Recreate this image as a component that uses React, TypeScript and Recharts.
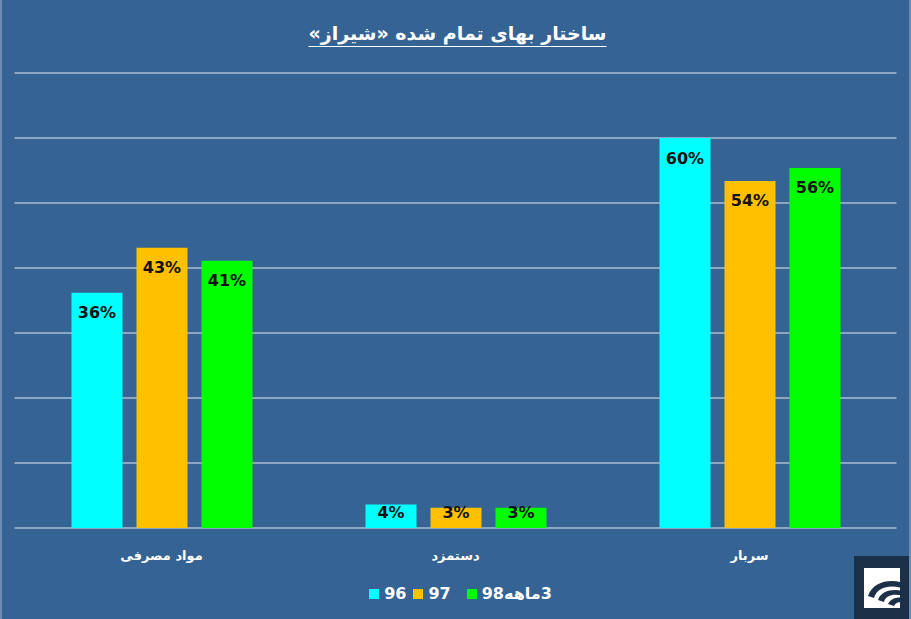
import React from "react";
import { BarChart, Bar, XAxis, YAxis, CartesianGrid, LabelList } from "recharts";

const categories = ["مواد مصرفی", "دستمزد", "سربار"];
const series96 = [36.2, 3.6, 60];
const series97 = [43.1, 3.1, 53.4];
const series98 = [41.1, 3.1, 55.4];
const labels96 = ["36%", "4%", "60%"];
const labels97 = ["43%", "3%", "54%"];
const labels98 = ["41%", "3%", "56%"];
const yTicks = [0, 10, 20, 30, 40, 50, 60, 70];
const seriesNames = ["96", "97", "3ماهه98"];
const seriesColors = ["#00FFFF", "#FFC000", "#00FF00"];

const data = categories.map((c, i) => ({
  name: c,
  s96: series96[i],
  s97: series97[i],
  s98: series98[i],
  l96: labels96[i],
  l97: labels97[i],
  l98: labels98[i],
}));

const BG = "#356494";
const FONT = "'DejaVu Sans', sans-serif";

const Tick = (props: any) => {
  const { x, y, payload } = props;
  return (
    <text
      x={x}
      y={y + 20}
      textAnchor="middle"
      dominantBaseline="middle"
      fill="#ffffff"
      fontFamily={FONT}
      fontWeight="bold"
      fontSize={13}
      direction="rtl"
    >
      {payload.value}
    </text>
  );
};

const BarLabel = (props: any) => {
  const { x, y, width, height, value } = props;
  const base = y + height;
  const cy = Math.min(y + 20, base - 16);
  return (
    <text
      x={x + width / 2}
      y={cy}
      textAnchor="middle"
      dominantBaseline="central"
      fill="#111"
      fontFamily={FONT}
      fontWeight="bold"
      fontSize={16}
    >
      {value}
    </text>
  );
};

const legendGaps = [7, 16, 0];

const Legend = () => (
  <div
    style={{
      position: "absolute",
      top: 584,
      left: 0,
      width: 911,
      display: "flex",
      justifyContent: "center",
      alignItems: "center",
      fontFamily: FONT,
      fontWeight: "bold",
      fontSize: 16,
      color: "#fff",
      paddingLeft: 6,
      boxSizing: "border-box",
    }}
  >
    {seriesNames.map((n, i) => (
      <div key={n} style={{ display: "flex", alignItems: "center", marginRight: legendGaps[i] }}>
        <div style={{ width: 10, height: 10, background: seriesColors[i], marginRight: 5 }} />
        <span dir="rtl">{n}</span>
      </div>
    ))}
  </div>
);

export default function App() {
  return (
    <div
      style={{
        position: "absolute",
        left: 0,
        top: 0,
        width: 911,
        height: 619,
        background: BG,
        overflow: "hidden",
        boxSizing: "border-box",
        borderLeft: "2px solid #6b8cb3",
        borderRight: "2px solid #6b8cb3",
      }}
    >
      <div
        style={{
          position: "absolute",
          top: 22,
          left: 0,
          width: 911,
          textAlign: "center",
          color: "#fff",
          fontFamily: FONT,
          fontWeight: "bold",
          fontSize: 19,
          textDecoration: "underline",
          textUnderlineOffset: 6,
          direction: "rtl",
        }}
      >
        ساختار بهای تمام شده «شیراز»
      </div>
      <div style={{ position: "absolute", left: -2, top: 0 }}>
        <BarChart
          width={911}
          height={619}
          data={data}
          margin={{ top: 73, right: 14.5, left: 14.5, bottom: 61 }}
          barSize={51}
          barGap={14}
        >
          <CartesianGrid vertical={false} stroke="#e4eaf2" strokeWidth={1} />
          <YAxis hide domain={[0, 70]} ticks={yTicks} />
          <XAxis
            dataKey="name"
            height={30}
            axisLine={false}
            tickLine={false}
            tick={<Tick />}
            interval={0}
          />
          <Bar dataKey="s96" fill={seriesColors[0]} isAnimationActive={false}>
            <LabelList dataKey="l96" content={<BarLabel />} />
          </Bar>
          <Bar dataKey="s97" fill={seriesColors[1]} isAnimationActive={false}>
            <LabelList dataKey="l97" content={<BarLabel />} />
          </Bar>
          <Bar dataKey="s98" fill={seriesColors[2]} isAnimationActive={false}>
            <LabelList dataKey="l98" content={<BarLabel />} />
          </Bar>
        </BarChart>
      </div>
      <Legend />
      <svg style={{ position: "absolute", left: 852, top: 556 }} width={59} height={63}>
        <rect x={0} y={0} width={59} height={63} fill="#1c3048" />
        <rect x={10} y={12} width={36} height={40} fill="#ffffff" />
        <path d="M14 40 C 20 22, 44 22, 56 30 L 56 36 C 44 28, 24 28, 20 42 Z" fill="#1c3048" />
        <path d="M24 44 C 28 32, 46 32, 56 38 L 56 43 C 46 37, 32 37, 30 46 Z" fill="#1c3048" />
        <path d="M34 48 C 38 40, 50 40, 56 45 L 56 49 C 50 45, 42 45, 40 50 Z" fill="#1c3048" />
      </svg>
    </div>
  );
}
